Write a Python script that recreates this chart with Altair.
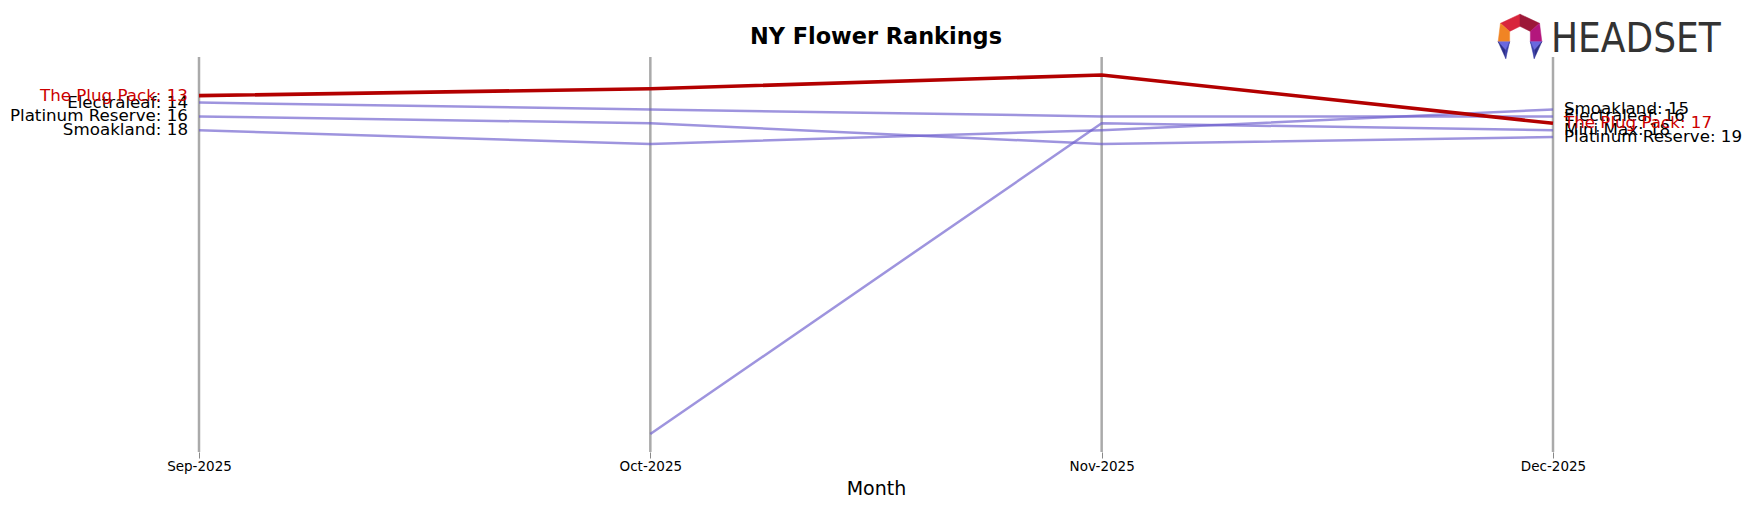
import altair as alt
import pandas as pd

months = ["Sep-2025", "Oct-2025", "Nov-2025", "Dec-2025"]
brands = ["The Plug Pack", "Electraleaf", "Platinum Reserve", "Smoakland", "Mini Max"]
plug_pack = [13, 12, 10, 17]
electraleaf = [14, 15, 16, 16]
platinum_reserve = [16, 17, 20, 19]
smoakland = [18, 20, 18, 15]
mini_max = [None, 62, 17, 18]

series = [plug_pack, electraleaf, platinum_reserve, smoakland, mini_max]
HL = "The Plug Pack"

rows = []
for b, vals in zip(brands, series):
    for m, v in zip(months, vals):
        if v is not None:
            rows.append({"brand": b, "month": m, "rank": v, "hl": b == HL,
                         "order": 1 if b == HL else 0})
df = pd.DataFrame(rows)

first = df[df["month"] == months[0]].copy()
first["label"] = first["brand"] + ": " + first["rank"].astype(str)
last = df[df["month"] == months[-1]].copy()
last["label"] = last["brand"] + ": " + last["rank"].astype(str)

W, H = 1354, 395
x_enc = alt.X("month:O", scale=alt.Scale(type="point", padding=0, domain=months),
              axis=alt.Axis(title="Month", labelAngle=0, domain=False, ticks=True,
                            tickColor="#888888", tickSize=6, labelFontSize=13.5,
                            labelFont="DejaVu Sans", labelColor="#000000",
                            labelPadding=1, titleFont="DejaVu Sans", titleFontSize=19,
                            titleFontWeight="normal", titleColor="#000000",
                            titlePadding=7, grid=False))
y_scale = alt.Scale(domain=[7.4, 64.6], reverse=True, nice=False, zero=False)
y_enc = alt.Y("rank:Q", scale=y_scale, axis=None)

mdf = pd.DataFrame({"month": months})
rules = alt.Chart(mdf).mark_rule(color="#aaaaaa", strokeWidth=2.5).encode(
    x=x_enc, y=alt.value(0), y2=alt.value(H))

others = alt.Chart(df[~df["hl"]]).mark_line(strokeWidth=2.5, color="#6a5acd",
                                             opacity=0.65).encode(
    x=x_enc, y=y_enc, detail="brand:N")
hl = alt.Chart(df[df["hl"]]).mark_line(strokeWidth=3.6, color="#b30000").encode(
    x=x_enc, y=y_enc)

color_scale = alt.Scale(domain=[True, False], range=["#cc0000", "#000000"])
left_txt = alt.Chart(first).mark_text(align="right", baseline="middle", dx=-11,
                                      fontSize=16.7, font="DejaVu Sans").encode(
    x=x_enc, y=y_enc, text="label:N",
    color=alt.Color("hl:N", scale=color_scale, legend=None), order="order:Q")
right_txt = alt.Chart(last).mark_text(align="left", baseline="middle", dx=11,
                                      fontSize=16.7, font="DejaVu Sans").encode(
    x=x_enc, y=y_enc, text="label:N",
    color=alt.Color("hl:N", scale=color_scale, legend=None), order="order:Q")

title_txt = alt.Chart(mdf.head(1)).mark_text(
    text="NY Flower Rankings", align="center", baseline="middle", fontSize=22.4,
    font="DejaVu Sans", fontWeight="bold", color="#000000").encode(
    x=alt.value(W / 2), y=alt.value(-20))

# logo decoration
u = 23
pts = {
    "T": (0, -0.95), "UL": (-0.85, -0.55), "UR": (0.85, -0.55),
    "L": (-0.95, 0.25), "R": (0.95, 0.25),
    "iT": (0, -0.42), "iUL": (-0.45, -0.2), "iUR": (0.45, -0.2),
    "iL": (-0.45, 0.25), "iR": (0.45, 0.25),
    "FL": (-0.62, 0.62), "FR": (0.62, 0.62),
    "fL": (-0.62, 0.98), "fR": (0.62, 0.98),
}
def path(keys):
    return "M" + " L".join(f"{pts[k][0]},{pts[k][1]}" for k in keys) + " Z"
polys = [
    (["T", "UL", "iUL", "iT"], "#d8263c"),
    (["T", "iT", "iUR", "UR"], "#9c1838"),
    (["UL", "L", "iL", "iUL"], "#f08424"),
    (["UR", "iUR", "iR", "R"], "#b3167c"),
    (["L", "iL", "FL"], "#6a68e0"),
    (["L", "FL", "fL"], "#2c2f8c"),
    (["iL", "FL", "fL"], "#3a3fa8"),
    (["R", "iR", "FR"], "#6a68e0"),
    (["R", "FR", "fR"], "#2c2f8c"),
    (["iR", "FR", "fR"], "#3a3fa8"),
]
cx, cy = 1321, -21
logo_layers = []
for keys, col in polys:
    logo_layers.append(
        alt.Chart(mdf.head(1)).mark_point(shape=path(keys), size=(2 * u) ** 2,
                                          filled=True, fill=col, stroke=col,
                                          strokeWidth=0.5, opacity=1).encode(
            x=alt.value(cx), y=alt.value(cy)))
logo_text = alt.Chart(mdf.head(1)).mark_text(
    text="HEADSET", align="left", baseline="alphabetic", fontSize=40,
    font="Liberation Sans Narrow, DejaVu Sans Condensed, Roboto, sans-serif",
    color="#333333").encode(
    x=alt.value(1352), y=alt.value(-5))

chart = alt.layer(rules, others, hl, left_txt, right_txt, title_txt,
                  *logo_layers, logo_text).properties(
    width=W, height=H,
    autosize=alt.AutoSizeParams(type="none"),
    padding={"left": 191, "top": 49, "right": 190, "bottom": 47},
).configure_view(stroke=None)

chart.save("out.html", embed_options={"renderer": "svg", "actions": False})
